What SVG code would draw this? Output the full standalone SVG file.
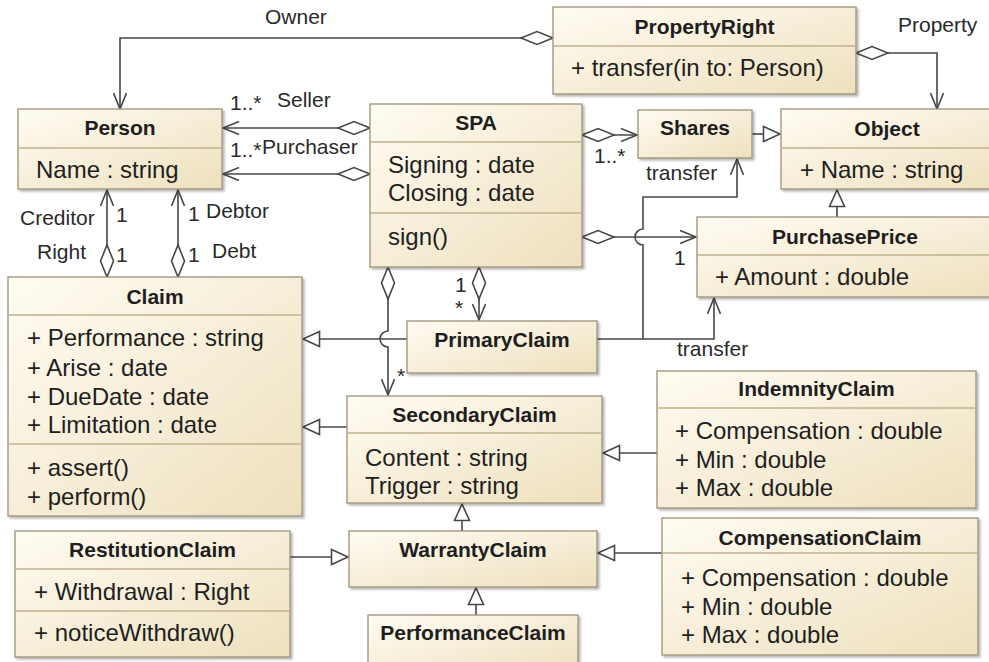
<svg xmlns="http://www.w3.org/2000/svg" width="989" height="662" viewBox="0 0 989 662">
<defs>
<linearGradient id="fill" x1="0" y1="0" x2="1" y2="1">
<stop offset="0" stop-color="#fffcf3"/>
<stop offset="1" stop-color="#eee0bd"/>
</linearGradient>
<filter id="sh" x="-5%" y="-5%" width="115%" height="115%">
<feDropShadow dx="2" dy="2" stdDeviation="1.2" flood-color="#000" flood-opacity="0.28"/>
</filter>
<marker id="arrow" markerUnits="userSpaceOnUse" viewBox="0 0 18 14" refX="17" refY="7" markerWidth="18" markerHeight="14" orient="auto">
<path d="M1,0.5 L17,7 L1,13.5" fill="none" stroke="#474747" stroke-width="1.6"/>
</marker>
<marker id="tri" markerUnits="userSpaceOnUse" viewBox="0 0 20 18" refX="18" refY="9" markerWidth="20" markerHeight="18" orient="auto">
<path d="M1.5,1.5 L18,9 L1.5,16.5 Z" fill="#fff" stroke="#474747" stroke-width="1.6"/>
</marker>
<marker id="dia" markerUnits="userSpaceOnUse" viewBox="0 0 36 16" refX="1" refY="8" markerWidth="36" markerHeight="16" orient="auto">
<path d="M1,8 L17,1.5 L33,8 L17,14.5 Z" fill="#fff" stroke="#474747" stroke-width="1.6"/>
</marker>
</defs>
<style>
.box{fill:url(#fill);stroke:#9c9177;stroke-width:1.3;filter:url(#sh)}
.sep{stroke:#c0b28d;stroke-width:1.3}
.t{font-family:"Liberation Sans",Arial,sans-serif;font-size:21px;font-weight:bold;fill:#1e1e1e;text-anchor:middle}
.a{font-family:"Liberation Sans",Arial,sans-serif;font-size:24px;fill:#1e1e1e}
.l{font-family:"Liberation Sans",Arial,sans-serif;font-size:21px;fill:#2a2a2a}
.c{fill:none;stroke:#474747;stroke-width:1.6}
.as{marker-start:url(#dia)}
.ae{marker-end:url(#arrow)}
.ge{marker-end:url(#tri)}
</style>
<rect width="989" height="662" fill="#fff"/>

<g id="connectors">
<path class="c as ae" d="M553,38 L120,38 L120,109"/>
<path class="c as ae" d="M856,53 L937,53 L937,109"/>
<path class="c as ae" d="M370,128 L223,128"/>
<path class="c as ae" d="M370,174 L223,174"/>
<path class="c as ae" d="M107,277 L107,190"/>
<path class="c as ae" d="M178,277 L178,190"/>
<path class="c as ae" d="M582,135 L637,135"/>
<path class="c ge" d="M752,134 L780,134"/>
<path class="c as ae" d="M582,237 L696,237"/>
<path class="c ge" d="M837,217 L837,190"/>
<path class="c ge" d="M407,339 L303,339"/>
<path class="c as ae" d="M388,267 L388,331 A8,8 0 0 0 388,347 L388,395"/>
<path class="c as ae" d="M479,267 L479,320"/>
<path class="c ge" d="M347,427 L303,427"/>
<path class="c ae" d="M597,339 L643,339 L643,245 A8,8 0 0 1 643,229 L643,197 L737,197 L737,159"/>
<path class="c ae" d="M643,339 L714,339 L714,298"/>
<path class="c ge" d="M657,453 L603,453"/>
<path class="c ge" d="M462,531 L462,504"/>
<path class="c ge" d="M476,615 L476,588"/>
<path class="c ge" d="M290,557 L348,557"/>
<path class="c ge" d="M662,553 L598,553"/>
<text class="l" x="265" y="24">Owner</text>
<text class="l" x="898" y="32">Property</text>
<text class="l" x="230" y="110">1..*</text>
<text class="l" x="277" y="107">Seller</text>
<text class="l" x="230" y="157">1..*</text>
<text class="l" x="262" y="154">Purchaser</text>
<text class="l" x="20" y="225">Creditor</text>
<text class="l" x="116" y="222">1</text>
<text class="l" x="37" y="259">Right</text>
<text class="l" x="116" y="262">1</text>
<text class="l" x="188" y="221">1</text>
<text class="l" x="206" y="218">Debtor</text>
<text class="l" x="188" y="262">1</text>
<text class="l" x="212" y="258">Debt</text>
<text class="l" x="594" y="163">1..*</text>
<text class="l" x="646" y="180">transfer</text>
<text class="l" x="674" y="265">1</text>
<text class="l" x="455" y="292">1</text>
<text class="l" x="455" y="315">*</text>
<text class="l" x="397" y="383">*</text>
<text class="l" x="677" y="356">transfer</text>
</g>

<g id="PropertyRight">
<rect class="box" x="553" y="7" width="303" height="87"/>
<line class="sep" x1="553" y1="46" x2="856" y2="46"/>
<text class="t" x="704.5" y="34">PropertyRight</text>
<text class="a" x="571" y="76">+ transfer(in to: Person)</text>
</g>

<g id="Person">
<rect class="box" x="18" y="109" width="204" height="80"/>
<line class="sep" x1="18" y1="148" x2="222" y2="148"/>
<text class="t" x="120" y="135">Person</text>
<text class="a" x="36" y="178">Name : string</text>
</g>

<g id="SPA">
<rect class="box" x="370" y="104" width="212" height="163"/>
<line class="sep" x1="370" y1="142" x2="582" y2="142"/>
<line class="sep" x1="370" y1="213" x2="582" y2="213"/>
<text class="t" x="476" y="130">SPA</text>
<text class="a" x="388" y="173">Signing : date</text>
<text class="a" x="388" y="201">Closing : date</text>
<text class="a" x="388" y="245">sign()</text>
</g>

<g id="Shares">
<rect class="box" x="638" y="110" width="114" height="48"/>
<text class="t" x="695" y="135">Shares</text>
</g>

<g id="Object">
<rect class="box" x="781" y="109" width="230" height="80"/>
<line class="sep" x1="781" y1="148" x2="1011" y2="148"/>
<text class="t" x="887" y="136">Object</text>
<text class="a" x="800" y="178">+ Name : string</text>
</g>

<g id="PurchasePrice">
<rect class="box" x="697" y="217" width="320" height="80"/>
<line class="sep" x1="697" y1="255" x2="1017" y2="255"/>
<text class="t" x="845" y="244">PurchasePrice</text>
<text class="a" x="715" y="285">+ Amount : double</text>
</g>

<g id="Claim">
<rect class="box" x="8" y="277" width="294" height="239"/>
<line class="sep" x1="8" y1="315" x2="302" y2="315"/>
<line class="sep" x1="8" y1="444" x2="302" y2="444"/>
<text class="t" x="155" y="304">Claim</text>
<text class="a" x="27" y="346">+ Performance : string</text>
<text class="a" x="27" y="376">+ Arise : date</text>
<text class="a" x="27" y="405">+ DueDate : date</text>
<text class="a" x="27" y="433">+ Limitation : date</text>
<text class="a" x="27" y="476">+ assert()</text>
<text class="a" x="27" y="505">+ perform()</text>
</g>

<g id="PrimaryClaim">
<rect class="box" x="407" y="321" width="190" height="52"/>
<text class="t" x="502" y="347">PrimaryClaim</text>
</g>

<g id="SecondaryClaim">
<rect class="box" x="347" y="396" width="255" height="107"/>
<line class="sep" x1="347" y1="433" x2="602" y2="433"/>
<text class="t" x="474.5" y="422">SecondaryClaim</text>
<text class="a" x="365" y="466">Content : string</text>
<text class="a" x="365" y="494">Trigger : string</text>
</g>

<g id="IndemnityClaim">
<rect class="box" x="657" y="371" width="319" height="137"/>
<line class="sep" x1="657" y1="408" x2="976" y2="408"/>
<text class="t" x="816.5" y="396">IndemnityClaim</text>
<text class="a" x="675" y="439">+ Compensation : double</text>
<text class="a" x="675" y="468">+ Min : double</text>
<text class="a" x="675" y="496">+ Max : double</text>
</g>

<g id="RestitutionClaim">
<rect class="box" x="15" y="531" width="275" height="126"/>
<line class="sep" x1="15" y1="569" x2="290" y2="569"/>
<line class="sep" x1="15" y1="611" x2="290" y2="611"/>
<text class="t" x="152.5" y="557">RestitutionClaim</text>
<text class="a" x="34" y="600">+ Withdrawal : Right</text>
<text class="a" x="34" y="641">+ noticeWithdraw()</text>
</g>

<g id="WarrantyClaim">
<rect class="box" x="349" y="531" width="248" height="56"/>
<text class="t" x="473" y="557">WarrantyClaim</text>
</g>

<g id="CompensationClaim">
<rect class="box" x="662" y="518" width="316" height="137"/>
<line class="sep" x1="662" y1="553" x2="978" y2="553"/>
<text class="t" x="820" y="545">CompensationClaim</text>
<text class="a" x="681" y="586">+ Compensation : double</text>
<text class="a" x="681" y="615">+ Min : double</text>
<text class="a" x="681" y="643">+ Max : double</text>
</g>

<g id="PerformanceClaim">
<rect class="box" x="368" y="615" width="210" height="60"/>
<text class="t" x="473" y="640">PerformanceClaim</text>
</g>
</svg>
